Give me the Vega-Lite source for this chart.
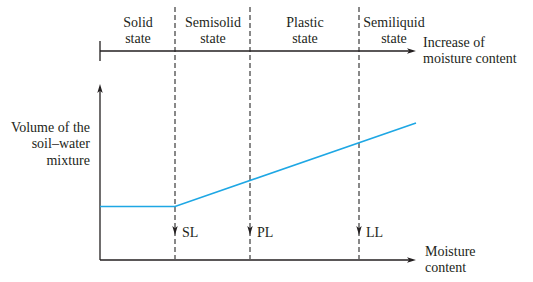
{
  "$schema": "https://vega.github.io/schema/vega-lite/v6.json",
  "width": 533,
  "height": 282,
  "padding": 0,
  "autosize": {"type": "fit", "contains": "padding"},
  "background": "white",
  "config": {"view": {"stroke": null}, "text": {"font": "'Liberation Serif', 'Times New Roman', 'DejaVu Serif', serif"}},
  "datasets": {
    "limits": [
      {"limit": "SL", "w": 175, "top": 7, "bottom": 259},
      {"limit": "PL", "w": 250, "top": 7, "bottom": 259},
      {"limit": "LL", "w": 359, "top": 7, "bottom": 259}
    ],
    "volume": [
      {"w": 100, "v": 206.5},
      {"w": 175, "v": 206.5},
      {"w": 416, "v": 123}
    ],
    "axes": [
      {"name": "top", "x1": 100, "x2": 413, "y1": 51, "y2": 51},
      {"name": "tick", "x1": 100, "x2": 100, "y1": 41, "y2": 61},
      {"name": "yaxis", "x1": 100, "x2": 100, "y1": 87, "y2": 260},
      {"name": "xaxis", "x1": 100, "x2": 413, "y1": 260, "y2": 260}
    ],
    "rightHeads": [{"x": 411.5, "y": 51}, {"x": 411.5, "y": 260}],
    "upHeads": [{"x": 100, "y": 88.5}],
    "downHeads": [{"x": 175, "y": 230.5}, {"x": 250, "y": 230.5}, {"x": 359, "y": 230.5}],
    "states": [
      {"label": "Solid\nstate", "x": 138, "y": 22.5},
      {"label": "Semisolid\nstate", "x": 213, "y": 22.5},
      {"label": "Plastic\nstate", "x": 305, "y": 22.5},
      {"label": "Semiliquid\nstate", "x": 394, "y": 22.5}
    ],
    "leftLabels": [
      {"label": "Increase of\nmoisture content", "x": 423, "y": 42.5},
      {"label": "Moisture\ncontent", "x": 425, "y": 252},
      {"label": "SL", "x": 182, "y": 233},
      {"label": "PL", "x": 257, "y": 233},
      {"label": "LL", "x": 366, "y": 233}
    ],
    "rightLabels": [
      {"label": "Volume of the\nsoil–water\nmixture", "x": 90, "y": 127.5}
    ]
  },
  "layer": [
    {
      "data": {"name": "limits"},
      "mark": {"type": "rule", "color": "#3a3a3a", "strokeWidth": 1.2, "strokeDash": [5, 3]},
      "encoding": {
        "x": {"field": "w", "type": "quantitative", "scale": {"domain": [0, 533], "nice": false, "zero": false}, "axis": null},
        "y": {"field": "top", "type": "quantitative", "scale": {"domain": [0, 282], "nice": false, "zero": false, "reverse": true}, "axis": null},
        "y2": {"field": "bottom"}
      }
    },
    {
      "data": {"name": "axes"},
      "mark": {"type": "rule", "color": "#231f20", "strokeWidth": 1.3},
      "encoding": {
        "x": {"field": "x1", "type": "quantitative"},
        "x2": {"field": "x2"},
        "y": {"field": "y1", "type": "quantitative"},
        "y2": {"field": "y2"}
      }
    },
    {
      "data": {"name": "volume"},
      "mark": {"type": "line", "color": "#1ea7e4", "strokeWidth": 1.6},
      "encoding": {
        "x": {"field": "w", "type": "quantitative"},
        "y": {"field": "v", "type": "quantitative"}
      }
    },
    {
      "data": {"name": "rightHeads"},
      "mark": {"type": "point", "shape": "M1,0L-1,-0.6L-0.5,0L-1,0.6Z", "size": 81, "filled": true, "color": "#231f20", "opacity": 1},
      "encoding": {
        "x": {"field": "x", "type": "quantitative"},
        "y": {"field": "y", "type": "quantitative"}
      }
    },
    {
      "data": {"name": "upHeads"},
      "mark": {"type": "point", "shape": "M0,-1L-0.6,1L0,0.5L0.6,1Z", "size": 81, "filled": true, "color": "#231f20", "opacity": 1},
      "encoding": {
        "x": {"field": "x", "type": "quantitative"},
        "y": {"field": "y", "type": "quantitative"}
      }
    },
    {
      "data": {"name": "downHeads"},
      "mark": {"type": "point", "shape": "M0,1L-0.6,-1L0,-0.5L0.6,-1Z", "size": 81, "filled": true, "color": "#231f20", "opacity": 1},
      "encoding": {
        "x": {"field": "x", "type": "quantitative"},
        "y": {"field": "y", "type": "quantitative"}
      }
    },
    {
      "data": {"name": "states"},
      "mark": {"type": "text", "fontSize": 14, "color": "#231f20", "align": "center", "baseline": "middle", "lineBreak": "\n", "lineHeight": 16},
      "encoding": {
        "x": {"field": "x", "type": "quantitative"},
        "y": {"field": "y", "type": "quantitative"},
        "text": {"field": "label"}
      }
    },
    {
      "data": {"name": "leftLabels"},
      "mark": {"type": "text", "fontSize": 14, "color": "#231f20", "align": "left", "baseline": "middle", "lineBreak": "\n", "lineHeight": 16},
      "encoding": {
        "x": {"field": "x", "type": "quantitative"},
        "y": {"field": "y", "type": "quantitative"},
        "text": {"field": "label"}
      }
    },
    {
      "data": {"name": "rightLabels"},
      "mark": {"type": "text", "fontSize": 14, "color": "#231f20", "align": "right", "baseline": "middle", "lineBreak": "\n", "lineHeight": 16.5},
      "encoding": {
        "x": {"field": "x", "type": "quantitative"},
        "y": {"field": "y", "type": "quantitative"},
        "text": {"field": "label"}
      }
    }
  ]
}
